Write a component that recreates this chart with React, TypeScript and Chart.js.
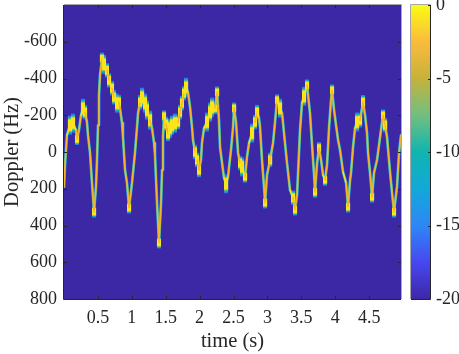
import React, { useEffect, useRef } from "react";
import { Chart, registerables } from "chart.js";

Chart.register(...registerables);

const FONT = "'Liberation Serif', 'Times New Roman', serif";
const INK = "#262626";
const BOX = "#a6a6a6";
const FLOOR = "#3c27a5";

const xTicks = [0.5, 1, 1.5, 2, 2.5, 3, 3.5, 4, 4.5];
const yTicks = [-600, -400, -200, 0, 200, 400, 600, 800];
const barTicks = [0, -5, -10, -15, -20];

const ridgeTime = [
  0, 0.015, 0.044, 0.088, 0.133, 0.177, 0.192, 0.221, 0.251, 0.28, 0.31, 0.339, 0.354, 0.384, 0.413, 0.443, 0.472,
  0.487, 0.502, 0.516, 0.531, 0.56, 0.59, 0.634, 0.664, 0.708, 0.738, 0.782, 0.811, 0.826, 0.856, 0.87, 0.9, 0.929,
  0.959, 1.003, 1.047, 1.077, 1.092, 1.121, 1.151, 1.195, 1.224, 1.269, 1.298, 1.328, 1.342, 1.372, 1.401, 1.431,
  1.446, 1.46, 1.475, 1.505, 1.534, 1.564, 1.593, 1.637, 1.682, 1.711, 1.74, 1.77, 1.8, 1.829, 1.859, 1.888, 1.903,
  1.932, 1.962, 1.991, 2.02, 2.035, 2.065, 2.109, 2.154, 2.183, 2.227, 2.257, 2.286, 2.301, 2.331, 2.36, 2.39, 2.419,
  2.449, 2.463, 2.493, 2.508, 2.537, 2.567, 2.596, 2.626, 2.67, 2.699, 2.729, 2.773, 2.817, 2.847, 2.876, 2.891, 2.92,
  2.95, 2.965, 2.994, 3.039, 3.083, 3.112, 3.142, 3.186, 3.216, 3.245, 3.289, 3.333, 3.378, 3.407, 3.437, 3.452, 3.481,
  3.51, 3.54, 3.584, 3.628, 3.658, 3.688, 3.702, 3.732, 3.761, 3.791, 3.82, 3.85, 3.879, 3.894, 3.909, 3.938, 3.953,
  3.983, 4.012, 4.042, 4.071, 4.115, 4.16, 4.189, 4.219, 4.233, 4.263, 4.292, 4.322, 4.366, 4.41, 4.44, 4.469, 4.484,
  4.513, 4.543, 4.572, 4.617, 4.661, 4.705, 4.735, 4.764, 4.808, 4.838, 4.867, 4.911, 4.941, 4.97,
];

const ridgeDoppler = [
  190, 70, -92, -146, -157, -119, -70, -119, -200, -238, -217, -163, -92, 5, 168, 325, 190,
  43, -146, -309, -417, -509, -477, -444, -390, -347, -298, -266, -271, -238, -157, -81, 98, 168,
  303, 168, 5, -135, -211, -271, -298, -266, -228, -173, -130, -49, 16, 276, 493, 276,
  98, -81, -195, -152, -98, -130, -146, -157, -163, -217, -266, -320, -352, -325, -244, -135, -65,
  0, 43, 98, 43, -49, -130, -163, -217, -244, -238, -325, -173, -27, 60, 141, 173, 135,
  33, -11, -135, -238, -163, 5, 60, 81, 135, 27, -49, -103, -163, -217, -184, -135, 43,
  190, 276, 125, 43, -49, -163, -282, -238, -211, -103, 60, 206, 249, 314, 233, 114, -119,
  -266, -303, -363, -211, -38, 125, 217, 60, -22, 43, 125, 152, 70, -27, -135, -282, -336,
  -228, -146, -65, -11, 108, 168, 298, 152, 114, -27, -130, -163, -173, -271, -200, -103, 5,
  114, 244, 114, 43, -81, -200, -146, -81, 108, 222, 325, 190, 5, -92,
];

const layerColors = ["#2f78f0", "#12b2bf", "#8cc260", "#fbe41a"];
const coreSteep = "#f8b32c";
const lineWidths = [2.9, 2.3, 1.8, 1.4];
const spreadHz = [50, 42, 35, 29];
const FLAT_SLOPE = 1500;
const STEEP_SLOPE = 2500;

const parulaStops = [
  "#3e26a8", "#4748f0", "#2d87f7", "#12a8d8", "#10b5b0", "#71bf80", "#c5b23c", "#fbbb3c", "#f9fb15",
];

const slopeAt = (i: number, j: number) =>
  Math.abs(ridgeDoppler[j] - ridgeDoppler[i]) / Math.max(0.001, Math.abs(ridgeTime[j] - ridgeTime[i]));

const spreadScale = (i: number) => {
  const a = i > 0 ? slopeAt(i - 1, i) : STEEP_SLOPE * 2;
  const b = i < ridgeTime.length - 1 ? slopeAt(i, i + 1) : STEEP_SLOPE * 2;
  const prev = i > 0 ? ridgeDoppler[i - 1] : ridgeDoppler[i];
  const next = i < ridgeDoppler.length - 1 ? ridgeDoppler[i + 1] : ridgeDoppler[i];
  const extremum = (ridgeDoppler[i] - prev) * (next - ridgeDoppler[i]) < 0;
  const s = Math.max(a, b);
  const base = s < FLAT_SLOPE ? 1 : s < STEEP_SLOPE ? 0.75 : 0;
  return extremum ? Math.max(0.6, base) : base;
};

const pxSlope = (c: any) => Math.abs(c.p1.y - c.p0.y) / Math.max(0.001, Math.abs(c.p1.x - c.p0.x));

const frame = {
  id: "frame",
  beforeDatasetsDraw(chart: any) {
    const { ctx, chartArea: a } = chart;
    ctx.save();
    ctx.fillStyle = FLOOR;
    ctx.fillRect(a.left, a.top, a.right - a.left, a.bottom - a.top);
    ctx.restore();
  },
  afterDatasetsDraw(chart: any) {
    const { ctx, chartArea: a, scales } = chart;
    ctx.save();
    ctx.lineWidth = 1;
    ctx.strokeStyle = BOX;
    ctx.beginPath();
    ctx.moveTo(a.left, a.top - 0.5);
    ctx.lineTo(a.right + 0.5, a.top - 0.5);
    ctx.lineTo(a.right + 0.5, a.bottom);
    ctx.stroke();
    ctx.strokeStyle = INK;
    ctx.beginPath();
    ctx.moveTo(a.left - 0.5, a.top);
    ctx.lineTo(a.left - 0.5, a.bottom + 0.5);
    ctx.lineTo(a.right, a.bottom + 0.5);
    ctx.stroke();
    ctx.beginPath();
    for (const t of scales.x.ticks) {
      const p = Math.round(scales.x.getPixelForValue(t.value)) + 0.5;
      ctx.moveTo(p, a.bottom);
      ctx.lineTo(p, a.bottom - 3);
      ctx.moveTo(p, a.top);
      ctx.lineTo(p, a.top + 3);
    }
    for (const t of scales.y.ticks) {
      const p = Math.round(scales.y.getPixelForValue(t.value)) + 0.5;
      ctx.moveTo(a.left, p);
      ctx.lineTo(a.left + 3, p);
      ctx.moveTo(a.right, p);
      ctx.lineTo(a.right - 3, p);
    }
    ctx.stroke();
    ctx.restore();
  },
};

const barFrame = {
  id: "barFrame",
  afterDatasetsDraw(chart: any) {
    const { ctx, chartArea: a, scales } = chart;
    ctx.save();
    ctx.lineWidth = 1;
    ctx.strokeStyle = BOX;
    ctx.beginPath();
    ctx.moveTo(a.left - 0.5, a.bottom);
    ctx.lineTo(a.left - 0.5, a.top - 0.5);
    ctx.lineTo(a.right + 0.5, a.top - 0.5);
    ctx.stroke();
    ctx.strokeStyle = INK;
    ctx.beginPath();
    ctx.moveTo(a.right + 0.5, a.top);
    ctx.lineTo(a.right + 0.5, a.bottom + 0.5);
    ctx.lineTo(a.left, a.bottom + 0.5);
    for (const t of scales.y.ticks) {
      const p = Math.round(scales.y.getPixelForValue(t.value)) + 0.5;
      ctx.moveTo(a.right, p);
      ctx.lineTo(a.right - 2, p);
    }
    ctx.stroke();
    ctx.restore();
  },
};

const noScalePad = (s: any) => {
  s.paddingTop = 0;
  s.paddingBottom = 0;
  s.paddingLeft = 0;
  s.paddingRight = 0;
};

export default function App() {
  const mainRef = useRef<HTMLCanvasElement>(null);
  const barRef = useRef<HTMLCanvasElement>(null);

  useEffect(() => {
    const points = ridgeTime.map((t, i) => ({ x: t, y: ridgeDoppler[i] }));
    const lineLayer = (i: number) => ({
      type: "scatter",
      data: points,
      showLine: true,
      pointRadius: 0,
      tension: 0,
      order: 8 - 2 * i - 1,
      borderColor: layerColors[i],
      borderWidth: lineWidths[i],
      borderCapStyle: "round",
      borderJoinStyle: "round",
      segment: {
        borderColor: (c: any) => (i === 3 && pxSlope(c) > 4 ? coreSteep : layerColors[i]),
      },
    });
    const barLayer = (i: number) => ({
      type: "bar",
      order: 8 - 2 * i,
      grouped: false,
      barThickness: 3.4,
      backgroundColor: layerColors[i],
      data: ridgeTime
        .map((t, k) => {
          const h = spreadHz[i] * spreadScale(k);
          return h > 0 ? { x: t, y: [ridgeDoppler[k] - h, ridgeDoppler[k] + h] } : null;
        })
        .filter(Boolean),
    });
    const datasets = [0, 1, 2, 3].flatMap((i) => [barLayer(i), lineLayer(i)]);

    const main = new Chart(mainRef.current!, {
      type: "scatter",
      data: { datasets: datasets as any },
      plugins: [frame],
      options: {
        animation: false,
        responsive: false,
        layout: { padding: { top: 5, right: 58, left: 0, bottom: 0 } },
        plugins: { legend: { display: false }, tooltip: { enabled: false } },
        scales: {
          x: {
            type: "linear",
            min: 0,
            max: 4.97,
            offset: false,
            afterBuildTicks: (s: any) => {
              s.ticks = xTicks.map((value) => ({ value }));
            },
            afterFit: (s: any) => {
              s.height = 55;
              noScalePad(s);
            },
            grid: { display: false, drawTicks: false, offset: false },
            border: { display: false },
            ticks: {
              autoSkip: false,
              maxRotation: 0,
              padding: 8,
              color: INK,
              font: { family: FONT, size: 18 },
              callback: (v: any) => String(v),
            },
            title: {
              display: true,
              text: "time (s)",
              color: INK,
              padding: { top: 2, bottom: 0 },
              font: { family: FONT, size: 20.5 },
            },
          },
          y: {
            type: "linear",
            reverse: true,
            min: -800,
            max: 800,
            afterBuildTicks: (s: any) => {
              s.ticks = yTicks.map((value) => ({ value }));
            },
            afterFit: (s: any) => {
              s.width = 64;
              noScalePad(s);
            },
            grid: { display: false, drawTicks: false },
            border: { display: false },
            ticks: {
              autoSkip: false,
              padding: 7,
              color: INK,
              font: { family: FONT, size: 18 },
              callback: (v: any) => String(v),
            },
            title: {
              display: true,
              text: "Doppler (Hz)",
              color: INK,
              padding: { top: 0, bottom: 0 },
              font: { family: FONT, size: 20.5 },
            },
          },
        },
      },
    });

    const bar = new Chart(barRef.current!, {
      type: "bar",
      data: {
        labels: ["dB"],
        datasets: [
          {
            data: [[-20, 0]] as any,
            barPercentage: 1,
            categoryPercentage: 1,
            backgroundColor: (c: any) => {
              const a = c.chart.chartArea;
              if (!a) return parulaStops[0];
              const g = c.chart.ctx.createLinearGradient(0, a.bottom, 0, a.top);
              parulaStops.forEach((col, i) => g.addColorStop(i / (parulaStops.length - 1), col));
              return g;
            },
          },
        ],
      },
      plugins: [barFrame],
      options: {
        animation: false,
        responsive: false,
        layout: { padding: { top: 5, left: 6, bottom: 55, right: 0 } },
        plugins: { legend: { display: false }, tooltip: { enabled: false } },
        scales: {
          x: { display: false },
          y: {
            position: "right",
            min: -20,
            max: 0,
            afterBuildTicks: (s: any) => {
              s.ticks = barTicks.map((value) => ({ value }));
            },
            afterFit: (s: any) => {
              s.width = 29;
              noScalePad(s);
            },
            grid: { display: false, drawTicks: false },
            border: { display: false },
            ticks: {
              autoSkip: false,
              padding: 6,
              color: INK,
              font: { family: FONT, size: 18 },
              callback: (v: any) => String(v),
            },
          },
        },
      },
    });

    return () => {
      main.destroy();
      bar.destroy();
    };
  }, []);

  return (
    <div style={{ position: "fixed", left: 0, top: 0, width: 459, height: 354, background: "#fff" }}>
      <canvas ref={mainRef} width={459} height={354} style={{ position: "absolute", left: 0, top: 0 }} />
      <canvas ref={barRef} width={54} height={354} style={{ position: "absolute", left: 405, top: 0 }} />
    </div>
  );
}
